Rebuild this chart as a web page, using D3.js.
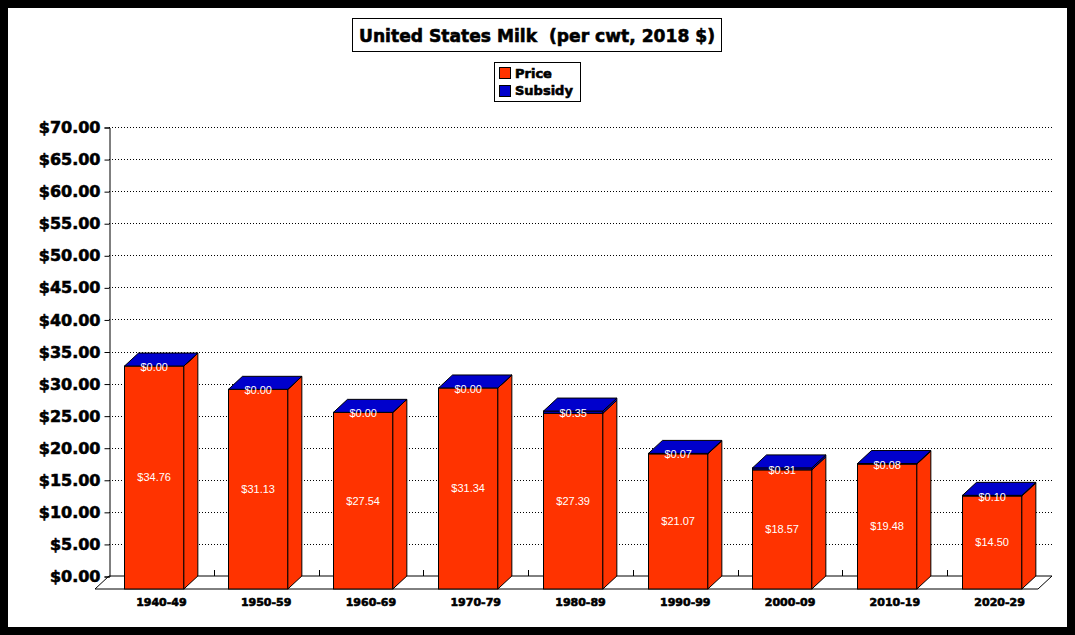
<!DOCTYPE html>
<html>
<head>
<meta charset="utf-8">
<script src="https://cdn.jsdelivr.net/npm/d3@7"></script>
<style>
  body { margin: 0; background: #000; }
  svg { display: block; }
  .heavy { stroke: #000; stroke-width: 0.6px; paint-order: stroke; }
</style>
</head>
<body>
<script>
const categories = ["1940-49", "1950-59", "1960-69", "1970-79", "1980-89", "1990-99", "2000-09", "2010-19", "2020-29"];
const price = [34.76, 31.13, 27.54, 31.34, 27.39, 21.07, 18.57, 19.48, 14.50];
const subsidy = [0.00, 0.00, 0.00, 0.00, 0.35, 0.07, 0.31, 0.08, 0.10];
const yTicks = [0, 5, 10, 15, 20, 25, 30, 35, 40, 45, 50, 55, 60, 65, 70];
const seriesNames = ["Price", "Subsidy"];
const seriesColors = ["#FF3300", "#0000CC"];

const W = 1075, H = 635;
const depthX = 14, depthY = 13;
const plot = { left: 109, right: 1052, top: 127, bottom: 576 };

const svg = d3.select("body").append("svg")
    .attr("width", W)
    .attr("height", H);

// frame
svg.append("rect").attr("width", W).attr("height", H).attr("fill", "#000");
svg.append("rect").attr("x", 8).attr("y", 8).attr("width", 1059).attr("height", 619).attr("fill", "#fff");

// scales
const xScale = d3.scaleBand()
    .domain(categories)
    .range([plot.left, plot.right])
    .paddingInner(0.3)
    .paddingOuter(0.15);

const yScale = d3.scaleLinear()
    .domain([0, 70])
    .range([plot.bottom, plot.top]);

// floor
svg.append("polygon")
    .attr("points", [
        [plot.left, plot.bottom], [plot.right, plot.bottom],
        [plot.right - depthX, plot.bottom + depthY], [plot.left - depthX, plot.bottom + depthY]
    ].join(" "))
    .attr("fill", "#fff")
    .attr("stroke", "#000")
    .attr("stroke-width", 1);

// gridlines on back wall
svg.append("g").selectAll("line")
    .data(yTicks.filter(d => d > 0))
    .enter().append("line")
    .attr("x1", plot.left).attr("x2", plot.right)
    .attr("y1", d => Math.round(yScale(d)) + 0.5)
    .attr("y2", d => Math.round(yScale(d)) + 0.5)
    .attr("stroke", "#000")
    .attr("stroke-dasharray", "1,2");

// y axis
const yAxis = d3.axisLeft(yScale)
    .tickValues(yTicks)
    .tickSize(5)
    .tickPadding(4)
    .tickFormat(d => "$" + d.toFixed(2));

const yAxisG = svg.append("g")
    .attr("transform", `translate(${plot.left + 0.5}, 0.5)`)
    .call(yAxis);
yAxisG.select(".domain").attr("stroke", "#000");
yAxisG.selectAll("text")
    .attr("class", "heavy")
    .attr("font-family", "DejaVu Sans")
    .attr("font-weight", "bold")
    .attr("font-size", 16)
    .attr("fill", "#000");

// category tick marks on the back floor line
const step = xScale.step();
svg.append("g").selectAll("line")
    .data(categories.slice(1))
    .enter().append("line")
    .attr("x1", (d) => Math.round(xScale(d) - xScale.paddingInner() * step / 2) + 0.5)
    .attr("x2", (d) => Math.round(xScale(d) - xScale.paddingInner() * step / 2) + 0.5)
    .attr("y1", plot.bottom)
    .attr("y2", plot.bottom - 6)
    .attr("stroke", "#000");

// x labels
svg.append("g").selectAll("text")
    .data(categories)
    .enter().append("text")
    .attr("class", "heavy")
    .attr("x", d => xScale(d) + xScale.bandwidth() / 2)
    .attr("y", 606)
    .attr("text-anchor", "middle")
    .attr("font-family", "DejaVu Sans")
    .attr("font-weight", "bold")
    .attr("font-size", 11)
    .text(d => d);

// bars
const frontW = xScale.bandwidth() - depthX;
const bars = svg.append("g");

categories.forEach((c, i) => {
    const x0 = Math.round(xScale(c)) - 0.5;
    const segs = [
        { lo: 0, hi: price[i], color: seriesColors[0] },
        { lo: price[i], hi: price[i] + subsidy[i], color: seriesColors[1] }
    ];
    segs.forEach((s, k) => {
        const yt = yScale(s.hi), yb = yScale(s.lo);
        // front face
        bars.append("rect")
            .attr("x", x0)
            .attr("y", yt + depthY)
            .attr("width", frontW)
            .attr("height", Math.max(0, yb - yt))
            .attr("fill", s.color)
            .attr("stroke", "#000");
        // side face
        bars.append("polygon")
            .attr("points", [
                [x0 + frontW, yb + depthY], [x0 + frontW, yt + depthY],
                [x0 + frontW + depthX, yt], [x0 + frontW + depthX, yb]
            ].join(" "))
            .attr("fill", s.color)
            .attr("stroke", "#000");
        // top face on the top segment
        if (k === segs.length - 1) {
            bars.append("polygon")
                .attr("points", [
                    [x0, yt + depthY], [x0 + depthX, yt],
                    [x0 + frontW + depthX, yt], [x0 + frontW, yt + depthY]
                ].join(" "))
                .attr("fill", s.color)
                .attr("stroke", "#000");
        }
    });

    // value labels
    bars.append("text")
        .attr("x", x0 + frontW / 2)
        .attr("y", (yScale(price[i]) + yScale(0)) / 2 + depthY)
        .attr("dy", "0.35em")
        .attr("text-anchor", "middle")
        .attr("font-family", "Liberation Sans")
        .attr("font-size", 11)
        .attr("fill", "#fff")
        .text("$" + price[i].toFixed(2));

    bars.append("text")
        .attr("x", x0 + frontW / 2)
        .attr("y", (yScale(price[i] + subsidy[i]) + yScale(price[i])) / 2 + depthY + 1)
        .attr("dy", "0.35em")
        .attr("text-anchor", "middle")
        .attr("font-family", "Liberation Sans")
        .attr("font-size", 11)
        .attr("fill", "#fff")
        .text("$" + subsidy[i].toFixed(2));
});

// title
svg.append("rect")
    .attr("x", 352.5).attr("y", 18.5)
    .attr("width", 369).attr("height", 33)
    .attr("fill", "#fff").attr("stroke", "#000");
svg.append("text")
    .attr("class", "heavy")
    .attr("x", 537)
    .attr("y", 42)
    .attr("text-anchor", "middle")
    .attr("font-family", "DejaVu Sans")
    .attr("font-weight", "bold")
    .attr("font-size", 18)
    .attr("textLength", 356)
    .attr("lengthAdjust", "spacingAndGlyphs")
    .style("white-space", "pre")
    .text("United States Milk  (per cwt, 2018 $)");

// legend
const legend = svg.append("g");
legend.append("rect")
    .attr("x", 494.5).attr("y", 62.5)
    .attr("width", 86).attr("height", 39)
    .attr("fill", "#fff").attr("stroke", "#000");
seriesNames.forEach((name, i) => {
    legend.append("rect")
        .attr("x", 499.5).attr("y", 67.5 + i * 18)
        .attr("width", 11).attr("height", 11)
        .attr("fill", seriesColors[i])
        .attr("stroke", "#000");
    legend.append("text")
        .attr("class", "heavy")
        .attr("x", 515)
        .attr("y", 78 + i * 17)
        .attr("font-family", "DejaVu Sans")
        .attr("font-weight", "bold")
        .attr("font-size", 13)
        .text(name);
});
</script>
</body>
</html>
